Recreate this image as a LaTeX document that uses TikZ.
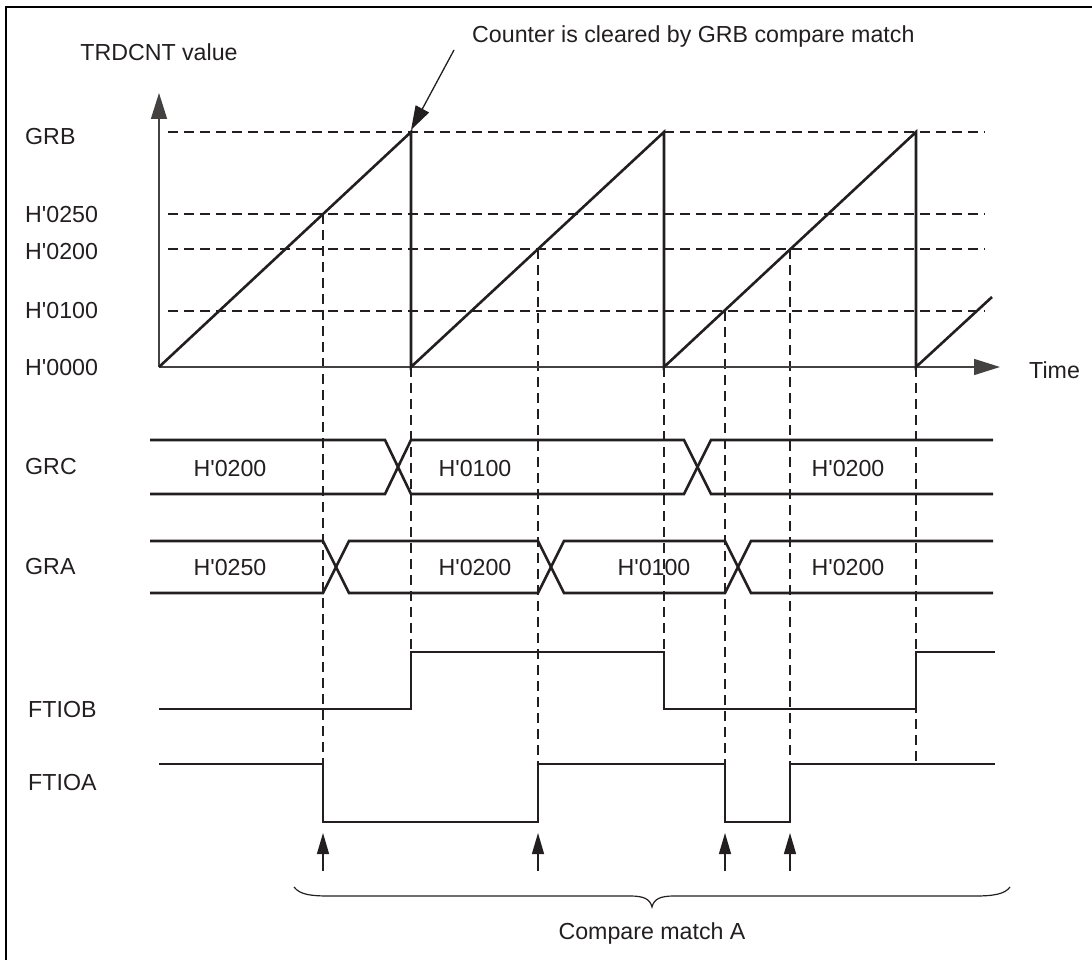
\documentclass[tikz,border=0pt]{standalone}
\usepackage{fontspec}
\setmainfont{Liberation Sans}
\usetikzlibrary{arrows.meta}
\definecolor{ink}{RGB}{35,31,32}
\newcommand{\hq}{H\textquotesingle}
\begin{document}
\begin{tikzpicture}[x=1pt,y=-1pt,
  every node/.style={font=\fontsize{23.2}{27}\selectfont, inner sep=0pt, text=ink},
  sig/.style={line width=2.6pt, draw=ink, line join=miter},
  ax/.style={line width=1.5pt, draw=ink!85},
  dsh/.style={line width=1.3pt, draw=ink, dash pattern=on 10pt off 6pt},
  thin/.style={line width=1.3pt, draw=ink},
  lbl/.style={anchor=west},
  bigtip/.style={-{Triangle[length=26pt,width=16pt]}},
  smalltip/.style={-{Triangle[length=21pt,width=12pt]}}]
\useasboundingbox (0,0) rectangle (1092,960);
\draw[line width=2.5pt, draw=black] (6,962) -- (6,7) -- (1094,7);

% coordinates
\coordinate (O) at (159,367);
\coordinate (Ytop) at (159,93);
\coordinate (Xend) at (1000,367);
\coordinate (P1) at (411,132); \coordinate (B1) at (411,367);
\coordinate (P2) at (664,132); \coordinate (B2) at (664,367);
\coordinate (P3) at (916,132); \coordinate (B3) at (916,367);
\coordinate (E) at (992,297);
\coordinate (callfoot) at (454,50);

% texts
\node (title) at (159,52) {TRDCNT value};
\node[anchor=west] (call) at (472,37) {Counter is cleared by GRB compare match};
\node[lbl] (lGRB) at (25,137) {GRB};
\node[lbl] (l250) at (25,215) {\hq 0250};
\node[lbl] (l200) at (25,252) {\hq 0200};
\node[lbl] (l100) at (25,311) {\hq 0100};
\node[lbl] (l000) at (25,368) {\hq 0000};
\node[lbl] (time) at (1029,370) {Time};
\node[lbl] (lGRC) at (25,467) {GRC};
\node[lbl] (lGRA) at (25,567) {GRA};
\node[lbl] (lFB) at (28,710) {FTIOB};
\node[lbl] (lFA) at (28,783) {FTIOA};
\node (c1) at (230,469) {\hq 0200};
\node (c2) at (475,469) {\hq 0100};
\node (c3) at (848,469) {\hq 0200};
\node (a1) at (230,568) {\hq 0250};
\node (a2) at (475,568) {\hq 0200};
\node (a3) at (654,568) {\hq 0100};
\node (a4) at (848,568) {\hq 0200};
\node (cmA) at (652,933) {Compare match A};

% dashed horizontals
\draw[dsh] (168,132) -- (985,132);
\draw[dsh] (168,214) -- (985,214);
\draw[dsh] (168,249) -- (985,249);
\draw[dsh] (168,311) -- (985,311);

% dashed verticals
\draw[dsh] (323,214) -- (323,764);
\draw[dsh] (B1) -- (411,652);
\draw[dsh] (538,249) -- (538,764);
\draw[dsh] (B2) -- (664,652);
\draw[dsh] (725,311) -- (725,764);
\draw[dsh] (790,249) -- (790,764);
\draw[dsh] (B3) -- (916,764);

% axes
\draw[ax, bigtip] (O) -- (Ytop);
\draw[ax, bigtip] (O) -- (Xend);

% sawtooth
\draw[sig] (O) -- (P1) -- (B1) -- (P2) -- (B2) -- (P3) -- (B3) -- (E);

% callout
\draw[thin, -{Triangle[length=24pt,width=15pt]}] (callfoot) -- (411,130);

% GRC bus
\draw[sig] (150,440) -- (385,440) -- (411,494) -- (684,494) -- (711,440) -- (993,440);
\draw[sig] (150,494) -- (385,494) -- (411,440) -- (684,440) -- (711,494) -- (993,494);

% GRA bus
\draw[sig] (150,541) -- (323,541) -- (349,593) -- (538,593) -- (564,541) -- (725,541) -- (751,593) -- (993,593);
\draw[sig] (150,593) -- (323,593) -- (349,541) -- (538,541) -- (564,593) -- (725,593) -- (751,541) -- (993,541);

% FTIOB
\draw[sig] (159,709) -- (411,709) -- (411,652) -- (664,652) -- (664,709) -- (916,709) -- (916,652) -- (995,652);
% FTIOA
\draw[sig] (159,764) -- (323,764) -- (323,822) -- (538,822) -- (538,764) -- (725,764) -- (725,822) -- (790,822) -- (790,764) -- (995,764);

% compare match arrows
\coordinate (m1) at (323,871); \coordinate (t1) at (323,833);
\coordinate (m2) at (538,871); \coordinate (t2) at (538,833);
\coordinate (m3) at (725,871); \coordinate (t3) at (725,833);
\coordinate (m4) at (790,871); \coordinate (t4) at (790,833);
\draw[thin, smalltip] (m1) -- (t1);
\draw[thin, smalltip] (m2) -- (t2);
\draw[thin, smalltip] (m3) -- (t3);
\draw[thin, smalltip] (m4) -- (t4);

% brace
\draw[line width=1.2pt, draw=ink] (294,887) .. controls (300,895) and (312,896) .. (330,896)
  -- (630,896) .. controls (644,896) and (650,899) .. (652,907)
  .. controls (654,899) and (660,896) .. (674,896)
  -- (975,896) .. controls (994,896) and (1005,894) .. (1010,887);
\end{tikzpicture}
\end{document}
